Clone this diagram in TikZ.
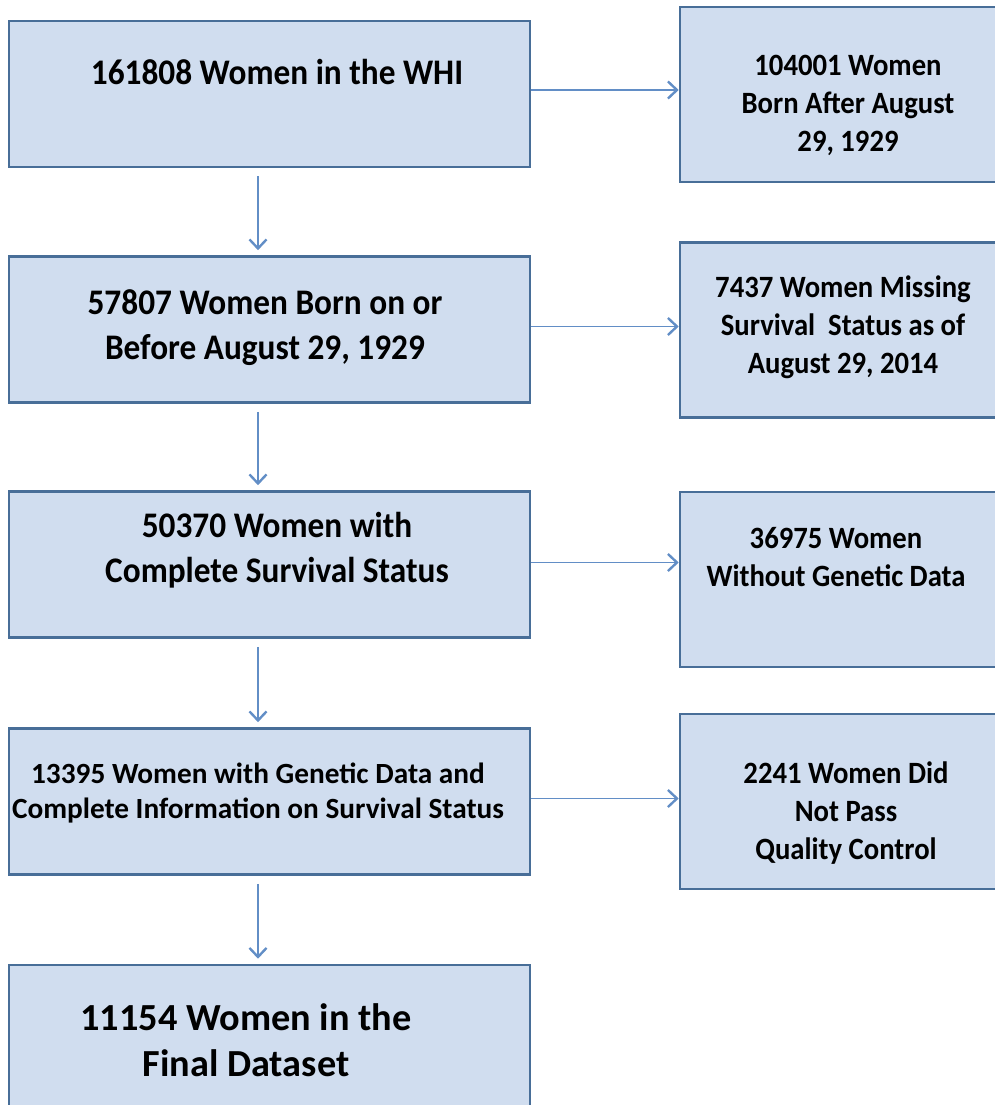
\documentclass[tikz,border=0pt]{standalone}
\usepackage{fontspec}
\setmainfont{Carlito}
\newfontfamily\narrowfont[FakeStretch=0.925]{Carlito}
\usepackage{tikz}
\usetikzlibrary{arrows.meta,positioning,calc}
\definecolor{boxfill}{RGB}{208,221,239}
\definecolor{boxline}{RGB}{72,110,152}
\definecolor{arrowcolor}{RGB}{98,142,198}

\begin{document}
\begin{tikzpicture}[
    x=1pt, y=-1pt,
    box/.style={rectangle, draw=boxline, fill=boxfill, line width=2.6pt, minimum width=521pt, minimum height=146pt},
    sidebox/.style={box, minimum width=330pt, minimum height=175pt},
    txt/.style={align=center, inner sep=0pt, font=\narrowfont\fontsize{36}{45}\selectfont\bfseries},
    sidetxt/.style={txt, font=\narrowfont\fontsize{31}{38}\selectfont\bfseries},
    arrow/.style={-{Straight Barb[length=9pt,width=17pt,line width=2.4pt]}, draw=arrowcolor, line width=1.8pt}
]
\useasboundingbox (0,0) rectangle (995,1105);
\clip (0,0) rectangle (995,1105);

% Main column
\node[box] (whi) at (269.5, 94) {};
\node[box] (born) at (269.5, 329.5) {};
\node[box] (complete) at (269.5, 564.5) {};
\node[box] (genetic) at (269.5, 801.5) {};
\node[box] (final) at (269.5, 1038) {};

\node[txt] (whi-t) at (277, 72) {161808 Women in the WHI};
\node[txt] (born-t) at (265, 328) {57807 Women Born on or\\Before August 29, 1929};
\node[txt] (complete-t) at (277, 550) {50370 Women with\\Complete Survival Status};
\node[txt, font=\fontsize{29.3}{35}\selectfont\bfseries] (genetic-t) at (258, 793) {13395 Women with Genetic Data and\\Complete Information on Survival Status};
\node[txt, font=\fontsize{38.3}{46}\selectfont\bfseries] (final-t) at (246, 1040) {11154 Women in the\\Final Dataset};

% Excluded
\node[sidebox] (after) at (845, 94.5) {};
\node[sidebox] (missing) at (845, 330) {};
\node[sidebox] (nogen) at (845, 579.5) {};
\node[sidebox] (qc) at (845, 801.5) {};

\node[sidetxt] (after-t) at (848, 105) {104001 Women\\Born After August\\29, 1929};
\node[sidetxt] (missing-t) at (843, 327) {7437 Women Missing\\Survival\ \ Status as of\\August 29, 2014};
\node[sidetxt] (nogen-t) at (836, 557) {36975 Women\\Without Genetic Data};
\node[sidetxt] (qc-t) at (846, 813) {2241 Women Did\\Not Pass\\Quality Control};

% Arrows - down
\draw[arrow] ([xshift=-11.5pt,yshift=-8pt]whi.south) -- ([xshift=-11.5pt,yshift=5pt]born.north);
\draw[arrow] ([xshift=-11.5pt,yshift=-8pt]born.south) -- ([xshift=-11.5pt,yshift=5pt]complete.north);
\draw[arrow] ([xshift=-11.5pt,yshift=-8pt]complete.south) -- ([xshift=-11.5pt,yshift=5pt]genetic.north);
\draw[arrow] ([xshift=-11.5pt,yshift=-8pt]genetic.south) -- ([xshift=-11.5pt,yshift=5pt]final.north);

% Arrows - right
\draw[arrow] ([yshift=4pt]whi.east) -- ([yshift=4pt]whi.east -| after.west);
\draw[arrow] ([yshift=3pt]born.east) -- ([yshift=3pt]born.east -| missing.west);
\draw[arrow] ([yshift=2pt]complete.east) -- ([yshift=2pt]complete.east -| nogen.west);
\draw[arrow] ([yshift=3pt]genetic.east) -- ([yshift=3pt]genetic.east -| qc.west);

\end{tikzpicture}
\end{document}
